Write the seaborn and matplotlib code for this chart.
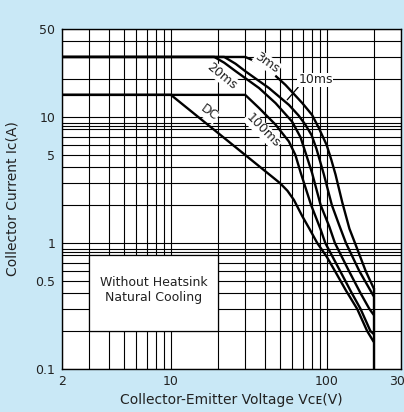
import numpy as np
import pandas as pd
import matplotlib
matplotlib.use("Agg")
import matplotlib.pyplot as plt
from matplotlib.patches import Rectangle
from matplotlib.ticker import FixedLocator, NullFormatter
import seaborn as sns

sns.set_style("white")
plt.rcParams['font.family'] = ['DejaVu Sans']

# ---- data (Collector-Emitter Voltage V, Collector Current A) ----
dc_v = [2, 10, 30, 50, 56, 61.6, 69.8, 78, 87, 100, 113, 133, 157, 182, 200]
dc_i = [15, 15, 5, 3, 2.6, 2.2, 1.63, 1.28, 1.0, 0.78, 0.6, 0.42, 0.3, 0.2, 0.165]

ms100_v = [2, 30, 36.8, 47, 57.2, 63, 68.2, 79.5, 91.5, 98, 122, 145, 165, 191, 200]
ms100_i = [15, 15, 11.8, 8.7, 6.4, 5.0, 3.6, 2.0, 1.28, 1.0, 0.6, 0.4, 0.3, 0.2, 0.19]

ms20_v = [2, 19, 22, 26.2, 36.8, 47, 60, 68, 74, 80.6, 91.5, 104, 113, 139, 165, 188, 200]
ms20_i = [30, 30, 27, 23, 17, 12.9, 9.2, 6.9, 5.0, 3.6, 2.0, 1.35, 1.0, 0.6, 0.4, 0.3, 0.27]

ms10_v = [2, 22, 26, 30.2, 42.6, 57.2, 66, 73, 80, 86, 91, 96, 108, 120, 133, 162, 185, 200]
ms10_i = [30, 30, 26.5, 23, 17, 12.5, 10.3, 8.7, 7.2, 5.6, 4.4, 3.5, 2.0, 1.4, 1.0, 0.6, 0.45, 0.38]

ms3_v = [2, 30, 36, 42.6, 54.4, 69.8, 80.6, 89, 100, 107, 114, 126, 140, 152, 178, 200]
ms3_i = [30, 30, 27.2, 23.7, 18, 12.9, 10.4, 8.2, 6.0, 4.6, 3.5, 2.1, 1.3, 1.0, 0.6, 0.44]

x_ticks = [2, 10, 100, 300]
x_ticklabels = ["2", "10", "100", "300"]
y_ticks = [0.1, 0.5, 1, 5, 10, 50]
y_ticklabels = ["0.1", "0.5", "1", "5", "10", "50"]
x_grid = [3, 4, 5, 6, 7, 8, 9, 20, 30, 40, 50, 60, 70, 80, 90, 200]
y_grid = [0.2, 0.3, 0.4, 0.6, 0.7, 0.8, 0.85, 0.9, 2, 3, 4, 6, 7, 8, 8.5, 9, 20, 30, 40]

series = {"DC": (dc_v, dc_i), "100ms": (ms100_v, ms100_i), "20ms": (ms20_v, ms20_i),
          "10ms": (ms10_v, ms10_i), "3ms": (ms3_v, ms3_i)}
df = pd.concat([pd.DataFrame({"V": v, "I": i, "curve": k}) for k, (v, i) in series.items()],
               ignore_index=True)

BG = "#c9e8f6"
TXT = "#222222"

fig = plt.figure(figsize=(4.04, 4.12), dpi=100, facecolor=BG)
ax = fig.add_axes([0.1535, 0.1044, 0.839, 0.8252])
ax.set_facecolor("white")
ax.set_xscale("log")
ax.set_yscale("log")

sns.lineplot(data=df, x="V", y="I", hue="curve", units="curve", estimator=None, sort=False,
             palette={k: "black" for k in series}, linewidth=1.7, legend=False, ax=ax, zorder=3)
for line in ax.lines:
    line.set_solid_joinstyle("round")

# vertical cut-off at the maximum voltage
v_max = max(ms3_v)
top_end = max(s[1][-1] for s in series.values())
ax.vlines(v_max, 0.1, top_end, color="black", linewidth=1.7, zorder=3)

ax.set_xlim(2, 300)
ax.set_ylim(0.1, 50)

ax.xaxis.set_major_locator(FixedLocator(x_ticks))
ax.set_xticklabels(x_ticklabels)
ax.yaxis.set_major_locator(FixedLocator(y_ticks))
ax.set_yticklabels(y_ticklabels)
ax.xaxis.set_minor_locator(FixedLocator(x_grid))
ax.yaxis.set_minor_locator(FixedLocator(y_grid))
ax.xaxis.set_minor_formatter(NullFormatter())
ax.yaxis.set_minor_formatter(NullFormatter())
ax.tick_params(which="both", length=0, labelsize=9, labelcolor=TXT)
ax.tick_params(axis="x", pad=4)
ax.tick_params(axis="y", pad=5)
ax.grid(True, which="both", color="black", linewidth=0.8, zorder=1)
ax.set_axisbelow(True)
for sp in ax.spines.values():
    sp.set_color("black")
    sp.set_linewidth(1.0)

ax.set_xlabel("Collector-Emitter Voltage V\u1d04\u1d07(V)", fontsize=10, color=TXT)
ax.set_ylabel("Collector Current Ic(A)", fontsize=10, color=TXT)
ax.xaxis.set_label_coords(0.5, -0.072)
ax.yaxis.set_label_coords(-0.125, 0.5)

# info box
ax.add_patch(Rectangle((3, 0.2), 20 - 3, 0.8 - 0.2, facecolor="white", edgecolor="black",
                       linewidth=0.9, zorder=2))
ax.text(np.sqrt(3 * 20), 0.425, "Without Heatsink\nNatural Cooling", ha="center", va="center",
        fontsize=9, color=TXT, linespacing=1.25, zorder=2.5)

lab_box = dict(facecolor="white", edgecolor="none", pad=0.5)
ax.text(41.5, 26.9, "3ms", rotation=-35, ha="center", va="center", fontsize=9,
        color=TXT, bbox=lab_box, zorder=4)
ax.text(21.2, 21.3, "20ms", rotation=-39, ha="center", va="center", fontsize=9,
        color=TXT, bbox=lab_box, zorder=4)
ax.text(17.5, 10.8, "DC", rotation=-36, ha="center", va="center", fontsize=9,
        color=TXT, bbox=lab_box, zorder=4)
ax.text(39, 7.8, "100ms", rotation=-45, ha="center", va="center", fontsize=9,
        color=TXT, bbox=lab_box, zorder=4)
ax.annotate("10ms", xy=(55.8, 13.7), xytext=(84.8, 19.7), ha="center", va="center",
            fontsize=9, color=TXT, bbox=lab_box, zorder=4,
            arrowprops=dict(arrowstyle="-", color="black", lw=0.9, shrinkA=0, shrinkB=0,
                            relpos=(0.05, 0.1)))

fig.savefig("out.png", dpi=100, facecolor=BG)
